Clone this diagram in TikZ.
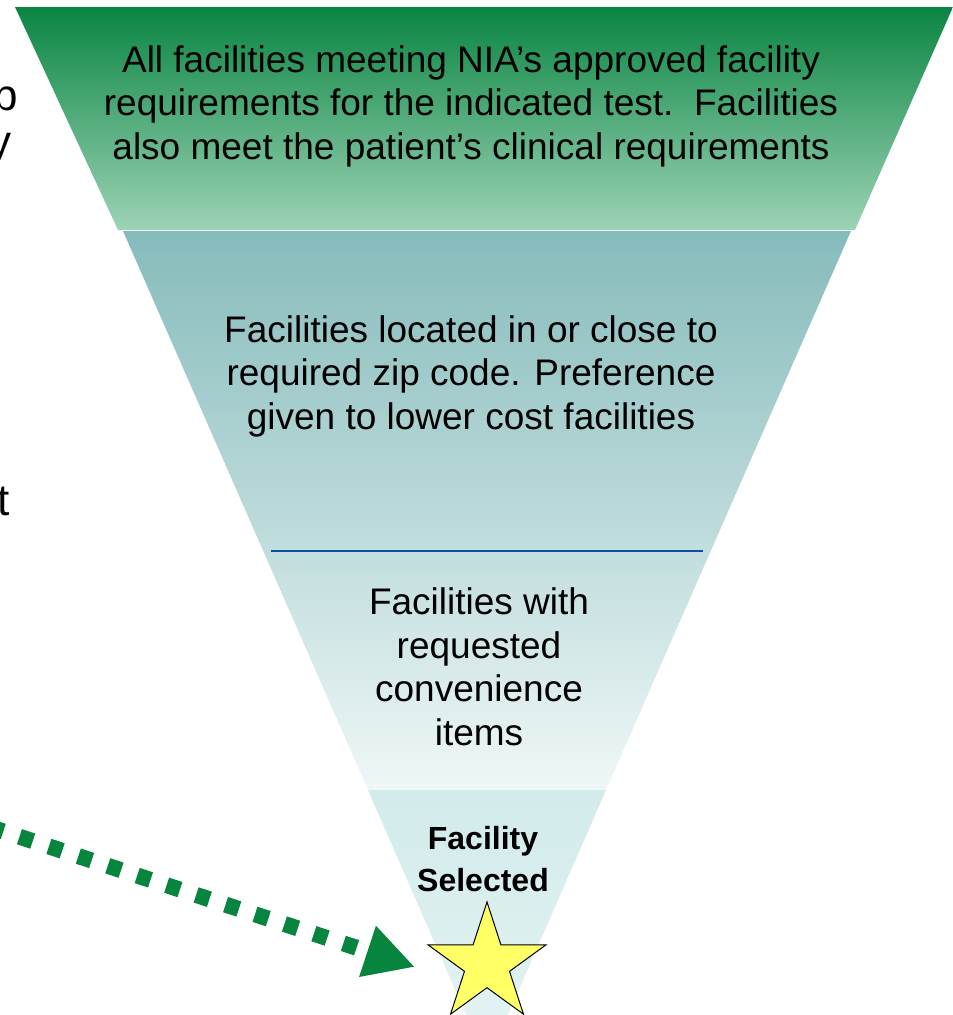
\documentclass[tikz,border=0pt]{standalone}
\usepackage{fontspec}
\setmainfont{Liberation Sans}
\usetikzlibrary{shapes.geometric,arrows.meta}
\definecolor{gtop}{HTML}{0A8542}
\definecolor{gbot}{HTML}{9DD3B6}
\definecolor{ttop}{HTML}{86BBBB}
\definecolor{tmid}{HTML}{CCE2E2}
\definecolor{tbot}{HTML}{EFF7F7}
\definecolor{btop}{HTML}{D2EBEB}
\definecolor{bbot}{HTML}{E6F3F3}
\definecolor{arrowgreen}{HTML}{07853F}
\definecolor{lineblue}{HTML}{0A4FA0}
\definecolor{staryellow}{HTML}{FFFF66}
\begin{document}
\begin{tikzpicture}[x=1pt,y=-1pt,
  funneltext/.style={font=\fontsize{37}{43.5}\selectfont, align=center, inner sep=0pt},
  boldtext/.style={font=\bfseries\fontsize{32}{42}\selectfont, align=center, inner sep=0pt},
  frag/.style={font=\fontsize{44}{50}\selectfont, inner sep=0pt, anchor=base east},
  dasharrow/.style={arrowgreen, line width=16pt, dash pattern=on 14pt off 17pt,
    -{Triangle[length=50pt,width=50pt]}},
]
\useasboundingbox (0,0) rectangle (953,1015);
\begin{scope}
  \clip (0,0) rectangle (953,1015);
  \shade[top color=gtop,bottom color=gbot] (15,7) -- (953,7) -- (855,230) -- (118,230) -- cycle;
  \shade[top color=ttop,middle color=tmid,bottom color=tbot] (123,231) -- (851,231) -- (606,790) -- (368,790) -- cycle;
  \shade[top color=btop,bottom color=bbot] (368,790) -- (606,790) -- (487,1063) -- cycle;
\end{scope}
\draw[lineblue, line width=2.5pt] (271,551) -- (703,551);

\node[funneltext] (t1) at (471,106) {All facilities meeting NIA’s approved facility\\requirements for the indicated test.\ \ Facilities\\also meet the patient’s clinical requirements};
\node[funneltext] (t2) at (471,376) {Facilities located in or close to\\required zip code. Preference\\given to lower cost facilities};
\node[funneltext] (t3) at (479,667) {Facilities with\\requested\\convenience\\items};
\node[boldtext] (t4) at (483,859) {Facility\\Selected};

\node[star, star points=5, star point ratio=2.618, minimum size=124pt, inner sep=0pt,
  draw=black, line width=1pt, fill=staryellow] (sel) at (487,964) {};

\coordinate (as) at (-10,827);
\coordinate (ae) at (415,967);
\draw[dasharrow] (as) -- (ae);

\node[frag] (f1) at (18,110) {p};
\node[frag] (f2) at (12,156) {y};
\node[frag] (f3) at (10,515) {t};
\end{tikzpicture}
\end{document}
